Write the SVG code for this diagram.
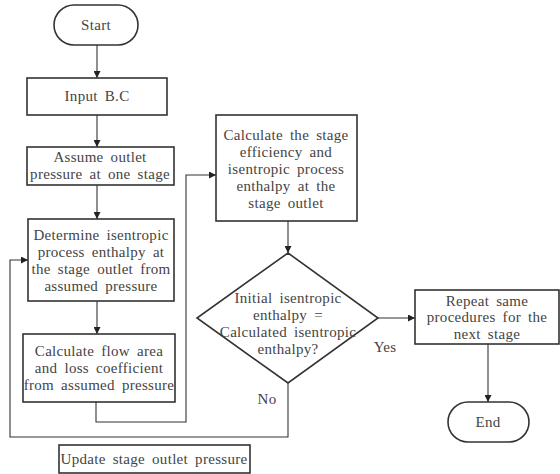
<svg xmlns="http://www.w3.org/2000/svg" width="560" height="474" viewBox="0 0 560 474">
<defs>
<marker id="ah" viewBox="0 0 8 8" refX="8" refY="4" markerWidth="7" markerHeight="7" markerUnits="userSpaceOnUse" orient="auto">
<path d="M0,0 L8,4 L0,8 z" fill="#222"/>
</marker>
</defs>
<style>
.box{fill:#fff;stroke:#333;stroke-width:1.6}
.t{font-family:"Liberation Serif",serif;font-size:15px;fill:#444;text-anchor:middle;word-spacing:3px;letter-spacing:0.3px}
.c{fill:none;stroke:#333;stroke-width:1.1}
.ca{fill:none;stroke:#333;stroke-width:1.1;marker-end:url(#ah)}
</style>
<rect width="560" height="474" fill="#fff"/>
<g id="connectors">
<line class="ca" x1="97" y1="45" x2="97" y2="78"/>
<line class="ca" x1="97" y1="115" x2="97" y2="147"/>
<line class="ca" x1="97" y1="185" x2="97" y2="219"/>
<line class="ca" x1="97" y1="301" x2="97" y2="334"/>
<polyline class="ca" points="96,402 96,422 186,422 186,175 216,175"/>
<line class="ca" x1="288" y1="221" x2="288" y2="253"/>
<line class="ca" x1="378" y1="318" x2="415" y2="318"/>
<line class="ca" x1="488" y1="344" x2="488" y2="402"/>
<polyline class="ca" points="288,383 288,437 10,437 10,260 28,260"/>
</g>
<g id="start">
<rect class="box" x="54" y="5" width="84" height="40" rx="20"/>
<text class="t" x="96" y="30">Start</text>
</g>
<g id="input">
<rect class="box" x="27" y="78" width="140" height="37"/>
<text class="t" x="97" y="101">Input B.C</text>
</g>
<g id="assume">
<rect class="box" x="27" y="147" width="147" height="38"/>
<text class="t" x="100" y="162">Assume outlet</text>
<text class="t" x="100" y="179">pressure at one stage</text>
</g>
<g id="determine">
<rect class="box" x="28" y="219" width="146" height="82"/>
<text class="t" x="101" y="240">Determine isentropic</text>
<text class="t" x="101" y="257">process enthalpy at</text>
<text class="t" x="101" y="274">the stage outlet from</text>
<text class="t" x="101" y="291">assumed pressure</text>
</g>
<g id="flow">
<rect class="box" x="23" y="334" width="152" height="68"/>
<text class="t" x="99" y="356">Calculate flow area</text>
<text class="t" x="99" y="373">and loss coefficient</text>
<text class="t" x="99" y="390">from assumed pressure</text>
</g>
<g id="efficiency">
<rect class="box" x="216" y="115" width="141" height="106"/>
<text class="t" x="286" y="140">Calculate the stage</text>
<text class="t" x="286" y="157">efficiency and</text>
<text class="t" x="286" y="174">isentropic process</text>
<text class="t" x="286" y="191">enthalpy at the</text>
<text class="t" x="286" y="208">stage outlet</text>
</g>
<g id="decision">
<polygon class="box" points="288,253 378,318 288,383 197,318"/>
<text class="t" x="288" y="303">Initial isentropic</text>
<text class="t" x="288" y="320">enthalpy =</text>
<text class="t" x="288" y="337">Calculated isentropic</text>
<text class="t" x="288" y="354">enthalpy?</text>
</g>
<g id="repeat">
<rect class="box" x="415" y="290" width="144" height="54"/>
<text class="t" x="487" y="306">Repeat same</text>
<text class="t" x="487" y="322">procedures for the</text>
<text class="t" x="487" y="339">next stage</text>
</g>
<g id="end">
<rect class="box" x="448" y="402" width="81" height="40" rx="20"/>
<text class="t" x="488" y="427">End</text>
</g>
<g id="update">
<rect class="box" x="59" y="445" width="191" height="28"/>
<text class="t" x="154" y="464">Update stage outlet pressure</text>
</g>
<g id="labels">
<text class="t" x="385" y="352">Yes</text>
<text class="t" x="267" y="404">No</text>
</g>
</svg>
